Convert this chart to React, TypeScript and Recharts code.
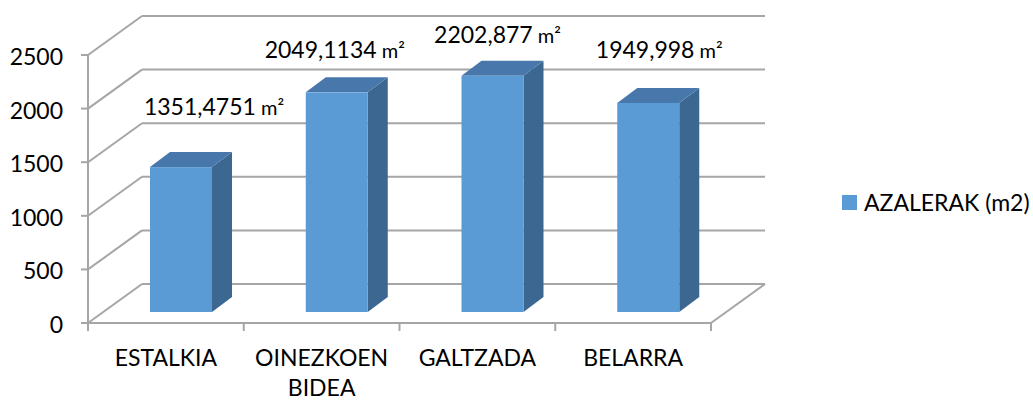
import { Bar, BarChart, CartesianGrid, LabelList, Legend, XAxis, YAxis } from 'recharts'

const categories = ['ESTALKIA', 'OINEZKOEN BIDEA', 'GALTZADA', 'BELARRA']
const areas = [1351.4751, 2049.1134, 2202.877, 1949.998]
const yTicks = [0, 500, 1000, 1500, 2000, 2500]
const seriesName = 'AZALERAK (m2)'

const data = categories.map((name, i) => ({ name, area: areas[i] }))

// chart frame
const W = 1033
const H = 400
const MARGIN = { top: 55, right: 322, bottom: 17, left: 0 }
const Y_AXIS_W = 88
const X_AXIS_H = 60
const PLOT_W = W - MARGIN.right - Y_AXIS_W
const FLOOR_Y = H - MARGIN.bottom - X_AXIS_H
const BAND = PLOT_W / categories.length

// 3D projection: wall depth, bar position inside the depth, bar depth
const DX = 54
const DY = -39
const OX = 15
const OY = -11
const BDX = 20
const BDY = -15

const GRID = '#A6A6A6'
const FRONT = '#5B9BD5'
const SIDE = '#3C6791'
const TOP = '#4878AB'
const FONT = 'Lato, "Open Sans", sans-serif'
const FS = 23

// hand-placed value labels, relative to bar centre / back top edge
const labelShift = [
  { dx: 33, dy: -37 },
  { dx: -2, dy: -19 },
  { dx: 5, dy: -18 },
  { dx: 11, dy: -30 },
]

function gridLine(p: any) {
  const { x1, x2, y1 } = p
  const floor = Math.abs(y1 - FLOOR_Y) < 0.5
  return (
    <g key={p.key ?? `h-${y1}`} stroke={GRID} strokeWidth={2} fill="none">
      <line x1={x1} y1={y1} x2={x1 + DX} y2={y1 + DY} />
      <line x1={x1 + DX} y1={y1 + DY} x2={x2 + DX} y2={y1 + DY} />
      {floor && <line x1={x2} y1={y1} x2={x2 + DX} y2={y1 + DY} />}
    </g>
  )
}

function Bar3D(props: any) {
  const { x, y, width, height } = props
  const fx = x + OX
  const fy = y + OY
  const side = [
    [fx + width, fy],
    [fx + width + BDX, fy + BDY],
    [fx + width + BDX, fy + height + BDY],
    [fx + width, fy + height],
  ]
  const top = [
    [fx, fy],
    [fx + BDX, fy + BDY],
    [fx + width + BDX, fy + BDY],
    [fx + width, fy],
  ]
  return (
    <g>
      <polygon points={side.map((p) => p.join(',')).join(' ')} fill={SIDE} />
      <polygon points={top.map((p) => p.join(',')).join(' ')} fill={TOP} />
      <rect x={fx} y={fy} width={width} height={height} fill={FRONT} />
    </g>
  )
}

function ValueLabel(props: any) {
  const { x, y, width, value, index } = props
  const s = labelShift[index] ?? { dx: 0, dy: -20 }
  const cx = x + OX + width / 2 + s.dx
  const by = y + OY + BDY + s.dy
  return (
    <text x={cx} y={by} textAnchor="middle" fontFamily={FONT} fontSize={FS} fill="#000">
      {String(value).replace('.', ',')}
      <tspan fontSize={20}> m²</tspan>
    </text>
  )
}

function CategoryTick(props: any) {
  const { x, y, payload, index } = props
  const words = String(payload.value).split(' ')
  const left = x - BAND / 2
  const right = x + BAND / 2
  return (
    <g>
      <line x1={left} y1={y} x2={left} y2={y + 8} stroke={GRID} strokeWidth={2} />
      {index === categories.length - 1 && (
        <line x1={right} y1={y} x2={right} y2={y + 8} stroke={GRID} strokeWidth={2} />
      )}
      <text textAnchor="middle" fontFamily={FONT} fontSize={FS} fill="#000">
        {words.map((w, i) => (
          <tspan key={w} x={x} y={y + 43 + i * 30}>
            {w}
          </tspan>
        ))}
      </text>
    </g>
  )
}

function ValueTick(props: any) {
  const { x, y, payload } = props
  return (
    <text x={x} y={y + 10} textAnchor="end" fontFamily={FONT} fontSize={FS} fill="#000">
      {payload.value}
    </text>
  )
}

function LegendBox() {
  return (
    <div style={{ display: 'flex', alignItems: 'center', fontFamily: FONT, fontSize: FS, color: '#000' }}>
      <span style={{ width: 15, height: 15, background: FRONT, marginRight: 7 }} />
      <span>{seriesName}</span>
    </div>
  )
}

export default function App() {
  return (
    <div style={{ position: 'absolute', left: 0, top: 0, background: '#fff' }}>
      <BarChart width={W} height={H} data={data} margin={MARGIN}>
        <CartesianGrid vertical={false} horizontal={gridLine} />
        <XAxis
          dataKey="name"
          height={X_AXIS_H}
          interval={0}
          tickSize={0}
          tickMargin={0}
          tickLine={false}
          axisLine={{ stroke: GRID, strokeWidth: 2 }}
          tick={<CategoryTick />}
        />
        <YAxis
          width={Y_AXIS_W}
          domain={[0, 2500]}
          ticks={yTicks}
          interval={0}
          tickSize={7}
          tickMargin={18}
          axisLine={{ stroke: GRID, strokeWidth: 2 }}
          tickLine={{ stroke: GRID, strokeWidth: 2 }}
          tick={<ValueTick />}
        />
        <Legend
          layout="horizontal"
          verticalAlign="middle"
          content={<LegendBox />}
          wrapperStyle={{ left: 842, top: 188, width: 200 }}
        />
        <Bar dataKey="area" name={seriesName} barSize={62} shape={<Bar3D />} isAnimationActive={false}>
          <LabelList dataKey="area" content={<ValueLabel />} />
        </Bar>
      </BarChart>
    </div>
  )
}
